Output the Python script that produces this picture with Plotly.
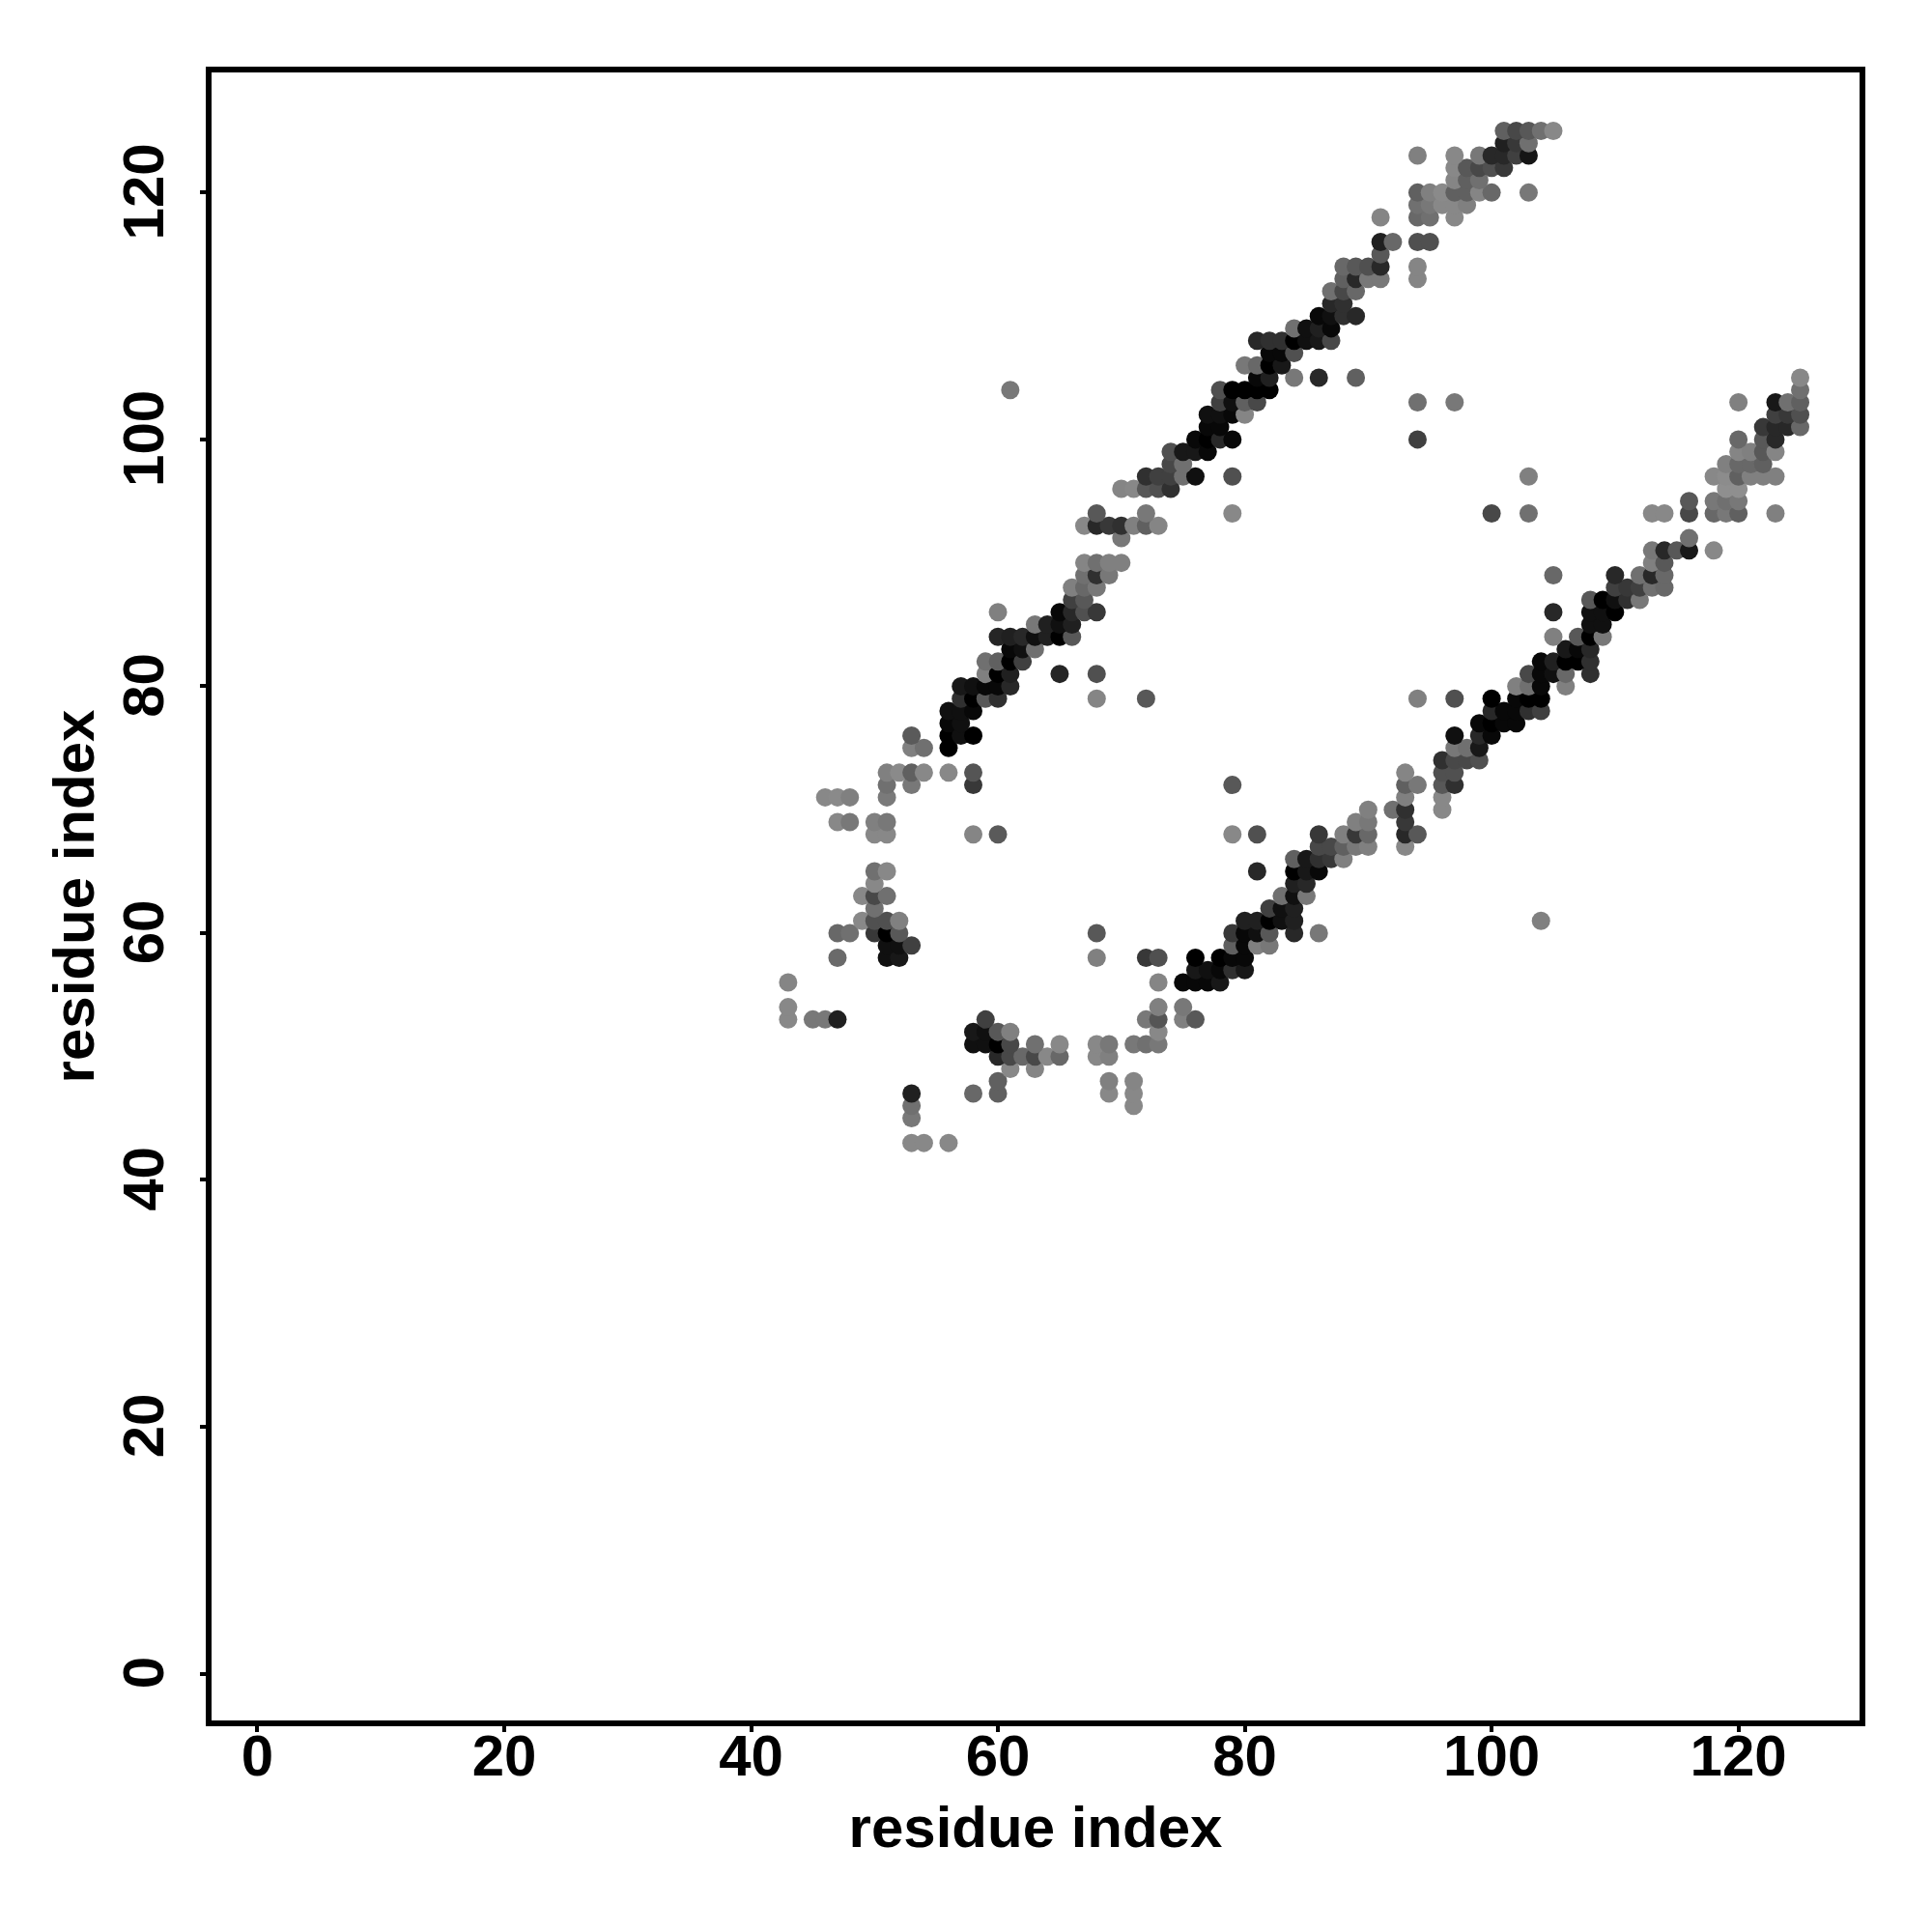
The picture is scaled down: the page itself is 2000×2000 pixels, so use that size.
import plotly.graph_objects as go

row_y = [43,45,46,47,48,49,50,51,52,53,54,56,57,58,59,60,61,62,63,64,65,66,67,68,69,70,71,72,73,74,75,76,77,78,79,80,81,82,83,84,85,86,87,88,89,90,91,92,93,94,95,96,97,98,99,100,101,102,103,104,105,106,107,108,109,110,111,112,113,114,115,116,118,119,120,121,122,123,124,125]

row_x = [
 [53,54,56],[53],[53,71],[53,58,60,69,71],[60,69,71],[61,63],
 [60,61,62,63,64,65,68,69],[58,59,60,61,63,65,68,69,71,72,73],[58,59,60,61,73],
 [43,45,46,47,59,72,73,75,76],[43,73,75],[43,73,75,76,77,78],[76,77,78,79,80],
 [47,51,52,68,72,73,76,78,79,80],[51,52,53,79,80,81,82],
 [47,48,50,51,52,68,79,80,81,82,84,86],[49,50,51,52,80,81,82,83,84,104],
 [50,82,83,84],[49,50,51,83,84,85],[50,84,85],[50,51,81,84,85,86],[84,85,86,87,88],
 [86,87,88,89,90,93],[50,51,58,60,79,81,86,88,89,90,93,94],[47,48,50,51,89,90,93],
 [90,92,93,96],[46,47,48,51,93,96],[51,53,58,79,93,94,96,97],[51,52,53,54,56,58,93,96,97],
 [96,97,98,99],[53,54,56,97,98,99],[53,56,57,58,97,99,100],[56,57,99,100,101,102],
 [56,57,58,100,101,102,103,104],[57,58,59,60,68,72,94,97,100,102,103,104],
 [57,58,59,60,61,102,103,104,106],[59,60,61,65,68,103,104,105,106,108],
 [59,60,61,62,104,105,106,107,108],[61,62,63,106,107,108],
 [60,61,62,63,64,65,66,105,107,108,109],[63,64,65,66,108,109],
 [60,65,66,67,68,105,108,109,110],[66,67,108,109,110,111,112],
 [66,67,68,110,111,112,113,114],[67,68,69,105,110,112,113,114],[67,68,69,70,113,114],
 [113,114,115,116,118],[70,116],[67,68,69,70,71,72,73],
 [68,72,79,100,103,113,114,116,118,119,120,123],[116,118,119,120],
 [70,71,72,73,74,119,120],[72,73,74,75,76,79,103,118,119,120,121,122,123],
 [74,75,119,120,121,122],[74,75,76,77,120,121,122,123],[76,77,78,79,94,120,122,123],
 [77,78,122,123,124,125],[77,78,79,80,123,124,125],[78,79,80,81,94,97,120,123,124,125],
 [61,78,79,80,81,82,125],[81,82,84,86,89,125],[80,81,82,83],[82,83,84],
 [81,82,83,84,85,86,87],[84,85,86,87],[86,87,88,89],[87,88],[87,88,89],
 [88,89,90,91,94],[88,89,90,91,94],[91],[91,92,94,95],[91,94,95,97],[94,95,96,97,98],
 [94,95,96,97,98,99,100,103],[97,98,99],[97,98,99,100,101],[94,97,99,100,101,102,103],
 [101,102,103],[101,102,103,104,105],
]

row_grey = [
 [0x88,0x88,0x88],[0x78],[0x70,0x88],[0x20,0x68,0x60,0x88,0x88],[0x60,0x80,0x85],[0x88,0x85],
 [0x28,0x48,0x68,0x48,0x88,0x68,0x88,0x80],[0x10,0x10,0x00,0x48,0x70,0x88,0x88,0x78,0x78,0x70,0x78],[0x18,0x10,0x58,0x80,0x88],
 [0x88,0x78,0x78,0x20,0x40,0x78,0x55,0x80,0x58],[0x88,0x80,0x78],[0x85,0x85,0x08,0x08,0x08,0x18],[0x18,0x10,0x08,0x30,0x18],
 [0x6a,0x10,0x18,0x80,0x38,0x50,0x00,0x00,0x08,0x08],[0x10,0x10,0x40,0x60,0x08,0x80,0x78],
 [0x68,0x70,0x38,0x00,0x58,0x58,0x38,0x08,0x10,0x58,0x28,0x78],[0x88,0x50,0x50,0x80,0x20,0x20,0x00,0x10,0x20,0x80],
 [0x70,0x40,0x10,0x20],[0x88,0x48,0x70,0x70,0x10,0x78],[0x88,0x20,0x28],[0x70,0x88,0x28,0x00,0x18,0x08],[0x60,0x18,0x30,0x38,0x80],
 [0x48,0x48,0x60,0x78,0x80,0x88],[0x88,0x88,0x85,0x5a,0x88,0x50,0x38,0x80,0x38,0x68,0x28,0x58],[0x88,0x78,0x80,0x78,0x80,0x78,0x38],
 [0x80,0x70,0x30,0x88],[0x88,0x8a,0x80,0x7a,0x80,0x88],[0x70,0x78,0x38,0x58,0x60,0x78,0x58,0x30],[0x80,0x8a,0x60,0x88,0x88,0x55,0x85,0x50,0x50],
 [0x30,0x48,0x48,0x50],[0x80,0x70,0x00,0x78,0x70,0x18],[0x5a,0x00,0x10,0x00,0x10,0x28,0x08],[0x08,0x10,0x08,0x00,0x08,0x08],
 [0x10,0x10,0x08,0x28,0x08,0x08,0x30,0x40],[0x30,0x00,0x58,0x30,0x85,0x58,0x80,0x50,0x00,0x08,0x00,0x00],
 [0x18,0x10,0x08,0x08,0x28,0x80,0x70,0x08,0x80],[0x80,0x00,0x20,0x25,0x50,0x48,0x08,0x10,0x68,0x30],
 [0x70,0x60,0x00,0x40,0x08,0x20,0x00,0x00,0x30],[0x08,0x10,0x70,0x18,0x08,0x28],
 [0x25,0x20,0x28,0x10,0x20,0x00,0x58,0x80,0x58,0x00,0x78],[0x78,0x20,0x10,0x20,0x10,0x10],
 [0x80,0x08,0x28,0x50,0x38,0x28,0x10,0x10,0x00],[0x40,0x58,0x58,0x00,0x10,0x30,0x78],
 [0x80,0x68,0x78,0x40,0x38,0x40,0x70,0x68],[0x70,0x30,0x78,0x68,0x28,0x70,0x28,0x68],[0x85,0x70,0x80,0x80,0x80,0x58],
 [0x78,0x28,0x58,0x18,0x88],[0x78,0x70],[0x88,0x28,0x38,0x30,0x80,0x60,0x85],
 [0x58,0x78,0x88,0x48,0x70,0x88,0x88,0x48,0x68,0x78,0x60,0x80],[0x58,0x78,0x70,0x78],
 [0x85,0x88,0x58,0x50,0x30,0x8f,0x8f],[0x30,0x40,0x40,0x70,0x10,0x50,0x80,0x88,0x8c,0x60,0x80,0x80,0x80],
 [0x48,0x70,0x80,0x68,0x68,0x60],[0x50,0x18,0x18,0x08,0x85,0x80,0x58,0x85],[0x08,0x00,0x28,0x08,0x40,0x68,0x58,0x28],
 [0x08,0x08,0x38,0x28,0x28,0x68],[0x10,0x10,0x08,0x85,0x40,0x38,0x50],[0x40,0x10,0x60,0x48,0x70,0x78,0x80,0x18,0x70,0x60],
 [0x78,0x50,0x00,0x00,0x00,0x00,0x70],[0x08,0x20,0x78,0x28,0x60,0x88],[0x78,0x68,0x00,0x18],[0x08,0x08,0x50],
 [0x28,0x30,0x30,0x00,0x10,0x18,0x48],[0x70,0x10,0x20,0x08],[0x08,0x10,0x30,0x28],[0x28,0x30],[0x70,0x48,0x68],
 [0x60,0x28,0x78,0x78,0x85],[0x68,0x58,0x50,0x28,0x85],[0x58],[0x20,0x68,0x50,0x50],[0x85,0x68,0x70,0x88],[0x70,0x78,0x88,0x88,0x80],
 [0x60,0x80,0x8a,0x60,0x60,0x85,0x68,0x78],[0x85,0x60,0x70],[0x88,0x58,0x48,0x50,0x38],[0x80,0x88,0x78,0x28,0x28,0x40,0x15],
 [0x20,0x38,0x70],[0x60,0x48,0x58,0x70,0x88],
]

tick_values = [0, 20, 40, 60, 80, 100, 120]
axis_title = "residue index"

residue_x, residue_y, colours = [], [], []
for y, xs, gs in zip(row_y, row_x, row_grey):
    for x, g in zip(xs, gs):
        residue_x.append(x)
        residue_y.append(y)
        colours.append(f"rgb({g},{g},{g})")

font = dict(family="Liberation Sans", size=60, color="black", weight=700)
PX = 12.78
OFF = 8  # page margin around the plot
L, R, T, B = 219.0 - OFF, 1925.5 - OFF, 74.7 - OFF, 1781.2 - OFF
X0, Y0 = 266.5 - OFF, 1732.7 - OFF

fig = go.Figure(go.Scatter(x=residue_x, y=residue_y, mode="markers",
                           marker=dict(size=19, color=colours, line=dict(width=0))))
axis = dict(showgrid=False, zeroline=False, showline=True, linecolor="black", linewidth=6,
            mirror=True, ticks="outside", ticklen=6, tickwidth=4, tickcolor="black",
            tickmode="array", tickvals=tick_values, tickfont=font)
fig.update_layout(
    width=2000, height=2000, margin=dict(l=L, r=2000 - R, t=T, b=2000 - B, autoexpand=False),
    paper_bgcolor="white", plot_bgcolor="white", showlegend=False,
    xaxis=dict(axis, range=[(L - X0) / PX, (R - X0) / PX], ticklabelstandoff=-27,
               title=dict(text=axis_title, font=font, standoff=22)),
    yaxis=dict(axis, range=[(Y0 - B) / PX, (Y0 - T) / PX], tickangle=-90, ticklabelstandoff=14,
               ticklabelshift=8, title=dict(text=axis_title, font=font, standoff=0)),
)
fig.write_html("out.html")
